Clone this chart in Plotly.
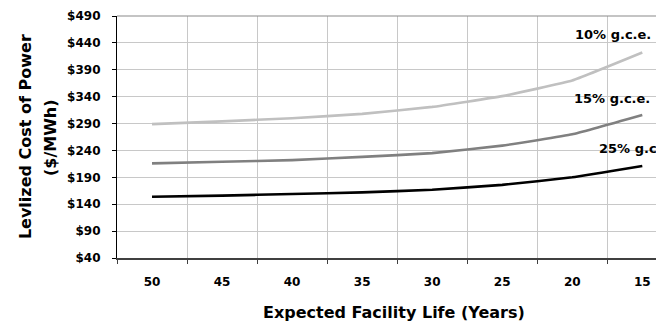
import plotly.graph_objects as go

years = ["50", "45", "40", "35", "30", "25", "20", "15"]
gce10 = [289, 294, 300, 308, 321, 341, 370, 422]
gce15 = [216, 219, 222, 228, 235, 249, 270, 306]
gce25 = [154, 156, 159, 162, 167, 176, 190, 211]
series_names = ["10% g.c.e.", "15% g.c.e.", "25% g.c.e."]
series_colors = ["#c0c0c0", "#808080", "#000000"]
y_ticks = list(range(40, 491, 50))
y_tick_text = ["$" + str(v) for v in y_ticks]

FONT = "DejaVu Sans, sans-serif"
fig = go.Figure()
for name, vals, col in zip(series_names, [gce10, gce15, gce25], series_colors):
    fig.add_trace(go.Scatter(x=years, y=vals, mode="lines", name=name,
                             line=dict(color=col, width=2.6, shape="spline", smoothing=0.3),
                             showlegend=False, hoverinfo="skip"))

last = len(years) - 1
label_pos = [(456, -29, "center"), (337, -30, "center"), (243, -45, "left")]
for (yv, dx, anc), name in zip(label_pos, series_names):
    fig.add_annotation(x=last, y=yv, text="<b>" + name + "</b>", showarrow=False,
                       xanchor=anc, yanchor="middle", xshift=dx,
                       font=dict(family=FONT, size=13, color="#000"))

for xp, txt in [(-0.168, "Levlized Cost of Power"), (-0.1225, "($/MWh)")]:
    fig.add_annotation(xref="paper", yref="paper", x=xp, y=0.5,
                       text="<b>" + txt + "</b>", textangle=-90,
                       showarrow=False, xanchor="center", yanchor="middle",
                       font=dict(family=FONT, size=16, color="#000"))
fig.add_annotation(xref="paper", yref="paper", x=0.5057, y=-0.225,
                   text="<b>Expected Facility Life (Years)</b>",
                   showarrow=False, xanchor="center", yanchor="middle",
                   font=dict(family=FONT, size=16, color="#000"))

# thin gray top border of the plot area
fig.add_shape(type="line", xref="paper", yref="paper", x0=0, x1=1, y0=1, y1=1,
              line=dict(color="#8a8a8a", width=1.2), layer="above")

fig.update_xaxes(type="category", range=[-0.5, 7.31], tickson="boundaries",
                 ticks="outside", ticklen=4, tickcolor="#404040", tickwidth=1.2,
                 showgrid=True, gridcolor="#c8c8c8", gridwidth=1,
                 showline=True, linecolor="#404040", linewidth=1.8,
                 tickfont=dict(family=FONT, size=12, color="#000"), automargin=False,
                 tickprefix="<b>", ticksuffix="</b>", ticklabelstandoff=12)
fig.update_yaxes(range=[40, 490], tickvals=y_ticks,
                 ticktext=["<b>" + t + "</b>" for t in y_tick_text],
                 ticks="outside", ticklen=4, tickcolor="#000", tickwidth=1,
                 showgrid=True, gridcolor="#c8c8c8", gridwidth=1,
                 showline=True, linecolor="#000", linewidth=1.2, zeroline=False,
                 automargin=False,
                 tickfont=dict(family=FONT, size=12, color="#000"), ticklabelstandoff=9)
# page body has an 8px default margin; the figure is sized and offset to compensate
fig.update_layout(width=656, height=320, margin=dict(l=109, r=0, t=8, b=70),
                  plot_bgcolor="white", paper_bgcolor="white")
fig.write_html("out.html")
